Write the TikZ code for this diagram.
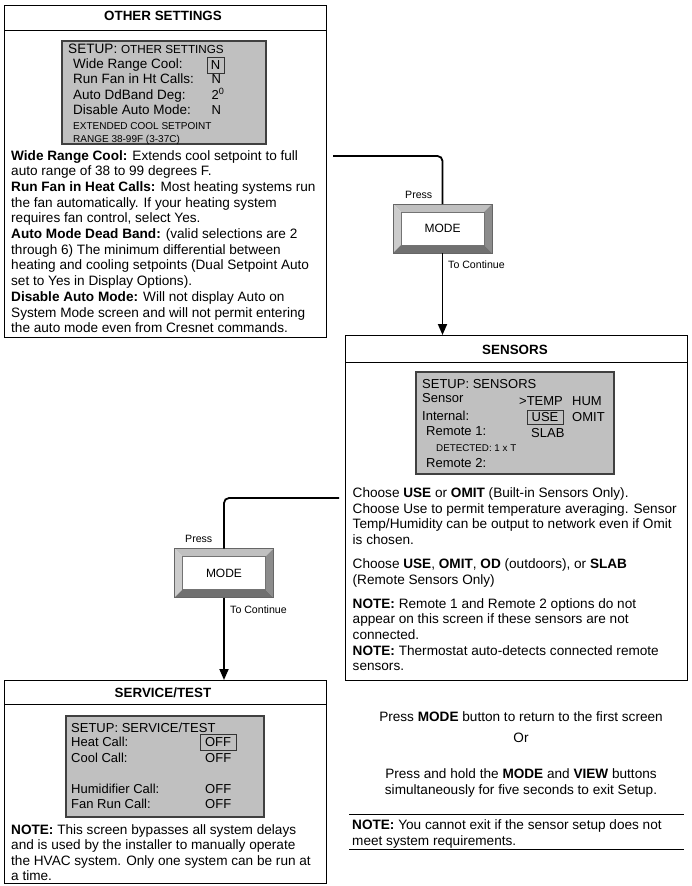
\documentclass[tikz,border=0pt]{standalone}
\usepackage{fontspec}
\setmainfont{Liberation Sans}
\usetikzlibrary{arrows.meta}
\definecolor{scrgray}{RGB}{192,192,192}
\definecolor{bvtop}{RGB}{192,192,192}
\definecolor{bvleft}{RGB}{204,204,204}
\definecolor{bvright}{RGB}{140,140,140}
\definecolor{bvbot}{RGB}{112,112,112}
\tikzset{
  body/.style={font=\fontsize{13.6}{15.7}\selectfont, anchor=base west, inner sep=0pt},
  scr/.style={font=\fontsize{13}{15}\selectfont, anchor=base west, inner sep=0pt},
  scrbig/.style={font=\fontsize{13.5}{15}\selectfont, anchor=base west, inner sep=0pt},
  scrsmall/.style={font=\fontsize{10}{12}\selectfont, anchor=base west, inner sep=0pt},
  lbl/.style={font=\fontsize{10.6}{12}\selectfont, anchor=base west, inner sep=0pt},
  ttl/.style={font=\fontsize{13.4}{15}\selectfont\bfseries, anchor=base, inner sep=0pt},
  frame/.style={draw=black, line width=0.8pt, anchor=north west, inner sep=0pt, outer sep=0pt},
  screen/.style={draw=black!75, fill=scrgray, line width=1.3pt, anchor=north west, inner sep=0pt, outer sep=0pt},
  valbox/.style={draw=black!80, line width=1pt, inner sep=0pt, text height=9.3pt, text depth=0pt, font=\fontsize{13}{15}\selectfont},
  btn/.style={draw=black!60, fill=white, minimum width=99pt, minimum height=49pt, inner sep=0pt, outer sep=0pt, font=\fontsize{12}{14}\selectfont},
  conn/.style={draw=black, line width=1.8pt},
  arr/.style={-{Triangle[length=11pt,width=9pt]}}
}
\newcommand\ModeBtn[3]{%
  \node[btn] (#1) at (#2,#3) {MODE};
  \fill[bvtop] (#1.north west) -- (#1.north east) -- ([shift={(-8,8)}]#1.north east) -- ([shift={(8,8)}]#1.north west) -- cycle;
  \fill[bvleft] (#1.north west) -- ([shift={(8,8)}]#1.north west) -- ([shift={(8,-8)}]#1.south west) -- (#1.south west) -- cycle;
  \fill[bvright] (#1.north east) -- (#1.south east) -- ([shift={(-8,-8)}]#1.south east) -- ([shift={(-8,8)}]#1.north east) -- cycle;
  \fill[bvbot] (#1.south west) -- ([shift={(8,-8)}]#1.south west) -- ([shift={(-8,-8)}]#1.south east) -- (#1.south east) -- cycle;
  \draw[black!60, line width=0.5pt] (#1.north west) rectangle (#1.south east);
  \draw[black!55, line width=0.4pt] ([shift={(8,8)}]#1.north west) rectangle ([shift={(-8,-8)}]#1.south east);
}
\begin{document}
\begin{tikzpicture}[x=1pt,y=-1pt]
\useasboundingbox (0,0) rectangle (691,886);

% ---------------- OTHER SETTINGS ----------------
\node[frame, minimum width=322pt, minimum height=332pt] (osbox) at (4,5) {};
\draw[line width=0.8pt] (osbox.west |- 0,30) -- (osbox.east |- 0,30);
\node[ttl] (osttl) at (163,20) {OTHER SETTINGS};
\node[screen, minimum width=204pt, minimum height=103pt] (osscr) at (62,41) {};
\node[scr, font=\fontsize{13.6}{15}\selectfont] (os0) at (68,53) {SETUP: {\fontsize{11.7}{14}\selectfont OTHER SETTINGS}};
\node[scrbig] (os1) at (73,68) {Wide Range Cool:};
\node[scrbig] (os2) at (73,83.5) {Run Fan in Ht Calls:};
\node[scrbig] (os3) at (73,99) {Auto DdBand Deg:};
\node[scrbig] (os4) at (73,114) {Disable Auto Mode:};
\node[scrsmall] (os5) at (73,129) {EXTENDED COOL SETPOINT};
\node[scrsmall] (os6) at (73,142) {RANGE 38-99F (3-37C)};
\node[valbox, minimum width=17pt, minimum height=16pt] (osv1) at (215.5,65) {N};
\node[scr] (osv2) at (211.5,83.5) {N};
\node[scr] (osv3) at (211.5,99) {2\textsuperscript{0}};
\node[scr] (osv4) at (211.5,114) {N};

\node[body] (od1) at (11,160) {\textbf{Wide Range Cool:} Extends cool setpoint to full};
\node[body] (od2) at (11,175.7) {auto range of 38 to 99 degrees F.};
\node[body] (od3) at (11,191.4) {\textbf{Run Fan in Heat Calls:} Most heating systems run};
\node[body] (od4) at (11,207.1) {the fan automatically. If your heating system};
\node[body] (od5) at (11,222.8) {requires fan control, select Yes.};
\node[body] (od6) at (11,238.5) {\textbf{Auto Mode Dead Band:} (valid selections are 2};
\node[body] (od7) at (11,254.2) {through 6) The minimum differential between};
\node[body] (od8) at (11,269.9) {heating and cooling setpoints (Dual Setpoint Auto};
\node[body] (od9) at (11,285.6) {set to Yes in Display Options).};
\node[body] (od10) at (11,301.3) {\textbf{Disable Auto Mode:} Will not display Auto on};
\node[body] (od11) at (11,317) {System Mode screen and will not permit entering};
\node[body] (od12) at (11,332.7) {the auto mode even from Cresnet commands.};

% ---------------- SENSORS ----------------
\node[frame, minimum width=342pt, minimum height=345pt] (sensbox) at (345,335) {};
\draw[line width=0.8pt] (sensbox.west |- 0,362) -- (sensbox.east |- 0,362);
\node[ttl] (sttl) at (515,354) {SENSORS};
\node[screen, minimum width=198pt, minimum height=102pt] (sscr) at (416,372) {};
\node[scr] (s0) at (422,388) {SETUP: SENSORS};
\node[scr] (s1) at (422,402) {Sensor};
\node[scr] (s1b) at (519,405) {>TEMP};
\node[scr] (s1c) at (572,405) {HUM};
\node[scr] (s2) at (422,420) {Internal:};
\node[valbox, minimum width=36pt, minimum height=14pt] (s2b) at (545,417) {USE};
\node[scr] (s2c) at (572,421) {OMIT};
\node[scr] (s3) at (426,435) {Remote 1:};
\node[scr] (s3b) at (531,437) {SLAB};
\node[scrsmall, font=\fontsize{9.8}{12}\selectfont] (s4) at (436,451) {DETECTED: 1 x T};
\node[scr] (s5) at (426,467) {Remote 2:};

\node[body] (sd1) at (352.5,497.5) {Choose \textbf{USE} or \textbf{OMIT} (Built-in Sensors Only).};
\node[body] (sd2) at (352.5,513.2) {Choose Use to permit temperature averaging. Sensor};
\node[body] (sd3) at (352.5,528.9) {Temp/Humidity can be output to network even if Omit};
\node[body] (sd4) at (352.5,544.6) {is chosen.};
\node[body] (sd5) at (352.5,568.5) {Choose \textbf{USE}, \textbf{OMIT}, \textbf{OD} (outdoors), or \textbf{SLAB}};
\node[body] (sd6) at (352.5,584.2) {(Remote Sensors Only)};
\node[body] (sd7) at (352.5,608) {\textbf{NOTE:} Remote 1 and Remote 2 options do not};
\node[body] (sd8) at (352.5,623.7) {appear on this screen if these sensors are not};
\node[body] (sd9) at (352.5,639.4) {connected.};
\node[body] (sd10) at (352.5,655.1) {\textbf{NOTE:} Thermostat auto-detects connected remote};
\node[body] (sd11) at (352.5,670.8) {sensors.};

% ---------------- SERVICE/TEST ----------------
\node[frame, minimum width=322pt, minimum height=203pt] (svbox) at (4,680) {};
\draw[line width=0.8pt] (svbox.west |- 0,704) -- (svbox.east |- 0,704);
\node[ttl] (svttl) at (163,697) {SERVICE/TEST};
\node[screen, minimum width=198pt, minimum height=101pt] (svscr) at (66,716) {};
\node[scr] (v0) at (71,732) {SETUP: SERVICE/TEST};
\node[scr] (v1) at (71,746) {Heat Call:};
\node[valbox, minimum width=36pt, minimum height=16pt] (v1b) at (218,742) {OFF};
\node[scr] (v2) at (71,762) {Cool Call:};
\node[scr] (v2b) at (205,762) {OFF};
\node[scr] (v3) at (71,793) {Humidifier Call:};
\node[scr] (v3b) at (205,793) {OFF};
\node[scr] (v4) at (71,808) {Fan Run Call:};
\node[scr] (v4b) at (205,808) {OFF};

\node[body] (vd1) at (11,834) {\textbf{NOTE:} This screen bypasses all system delays};
\node[body] (vd2) at (11,849.5) {and is used by the installer to manually operate};
\node[body] (vd3) at (11,865) {the HVAC system. Only one system can be run at};
\node[body] (vd4) at (11,880.5) {a time.};

% ---------------- bottom right ----------------
\node[body, anchor=base] (e1) at (521,721) {Press \textbf{MODE} button to return to the first screen};
\node[body, anchor=base] (e2) at (521,742) {Or};
\node[body, anchor=base] (e3) at (521,778) {Press and hold the \textbf{MODE} and \textbf{VIEW} buttons};
\node[body, anchor=base] (e4) at (521,794) {simultaneously for five seconds to exit Setup.};
\coordinate (n1a) at (349,814);
\coordinate (n1b) at (684,814);
\coordinate (n2a) at (349,849);
\coordinate (n2b) at (684,849);
\draw[line width=1pt] (n1a) -- (n1b);
\draw[line width=1pt] (n2a) -- (n2b);
\node[body] (en1) at (352,829) {\textbf{NOTE:} You cannot exit if the sensor setup does not};
\node[body] (en2) at (352,845) {meet system requirements.};

% ---------------- MODE buttons and connectors ----------------
\ModeBtn{mode1}{442.5}{228.5}
\node[lbl] (p1) at (405,198) {Press};
\node[lbl] (tc1) at (448,268) {To Continue};
\coordinate (c1s) at (333,156);
\draw[conn, rounded corners=5pt] (c1s) -| (mode1.north);
\draw[conn, arr] (mode1.south) -- (mode1.south |- sensbox.north);

\ModeBtn{mode2}{224}{573}
\node[lbl] (p2) at (185,542) {Press};
\node[lbl] (tc2) at (230,613) {To Continue};
\coordinate (c2s) at (339,498);
\draw[conn, rounded corners=5pt] (c2s) -| (mode2.north);
\draw[conn, arr] (mode2.south) -- (mode2.south |- svbox.north);
\end{tikzpicture}
\end{document}
